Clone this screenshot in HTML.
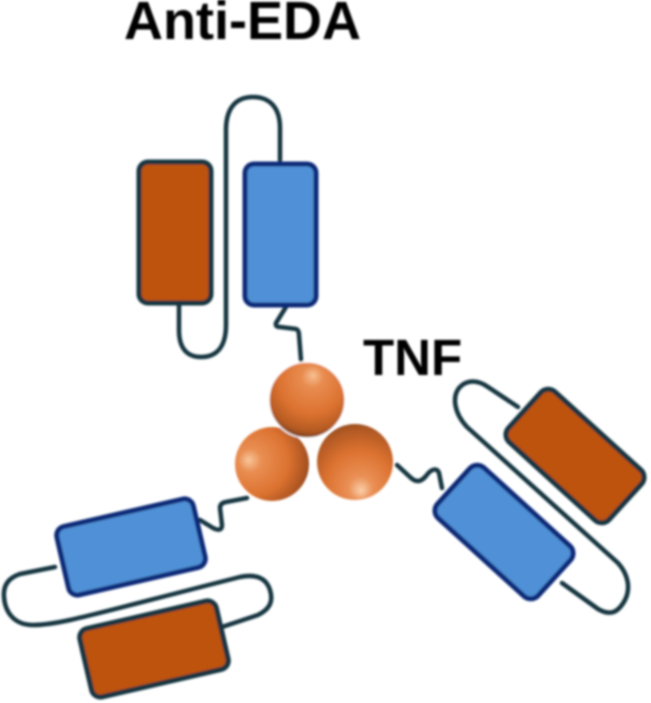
<!DOCTYPE html>
<html>
<head>
<meta charset="utf-8">
<style>
html,body{margin:0;padding:0;background:#fff;width:651px;height:703px;overflow:hidden}
svg{display:block}
text{font-family:"Liberation Sans",Arial,sans-serif;font-weight:bold;fill:#000}
</style>
</head>
<body>
<svg width="651" height="703" viewBox="0 0 651 703" xmlns="http://www.w3.org/2000/svg">
<defs>
<filter id="b" x="-10%" y="-10%" width="120%" height="120%"><feGaussianBlur stdDeviation="0.95"/></filter>
<radialGradient id="g1" cx="0.55" cy="0.3" r="0.72" fx="0.58" fy="0.17">
<stop offset="0" stop-color="#f8c092"/><stop offset="0.2" stop-color="#e88c50"/><stop offset="0.6" stop-color="#dc7230"/><stop offset="0.87" stop-color="#b45a22"/><stop offset="1" stop-color="#703c1c"/>
</radialGradient>
<radialGradient id="g2" cx="0.3" cy="0.45" r="0.78" fx="0.18" fy="0.45">
<stop offset="0" stop-color="#f9c69c"/><stop offset="0.2" stop-color="#e98e52"/><stop offset="0.6" stop-color="#dc7230"/><stop offset="0.86" stop-color="#ad5522"/><stop offset="1" stop-color="#703c1c"/>
</radialGradient>
<radialGradient id="g3" cx="0.55" cy="0.72" r="0.8" fx="0.58" fy="0.88">
<stop offset="0" stop-color="#fad0aa"/><stop offset="0.2" stop-color="#ea9056"/><stop offset="0.55" stop-color="#dc7230"/><stop offset="0.85" stop-color="#b05824"/><stop offset="1" stop-color="#7c4422"/>
</radialGradient>
</defs>
<g filter="url(#b)">
<text x="124" y="39" font-size="54">Anti-EDA</text>
<text x="363" y="375" font-size="51">TNF</text>
<g fill="none" stroke="#12343f" stroke-width="4.5" stroke-linecap="round" stroke-linejoin="round">
<!-- top -->
<path d="M280 160V128C280 108 270 97 253 97C236 97 226 108 226 130V325C226 345 218 357 201 357C186 357 179 347 179 330V303"/>
<path d="M286 307L276 323Q275 327 280 327L296 329Q299 330 299 335L301 360"/>
<!-- right -->
<path d="M518 407L488 387C477 379 466 380 459 388C452 397 454 413 467 427L618 563C628 574 631 588 625 600C618 613 610 616 598 609L562 583"/>
<path d="M397 465L410 477C416 483 421 482 426 476C431 469 437 467 439 473L442 488"/>
<!-- left -->
<path d="M55 567L20 574C8 578 3 586 4 597C5 612 14 625 33 625C60 625 90 615 240 577C255 574 266 577 270 590C274 603 268 610 258 615L222 627"/>
<path d="M200 520L213 528C219 531 222 530 222 525L220 508Q220 503 226 502L247 498"/>
</g>
<g stroke-width="5">
<rect x="139" y="162" width="72" height="141" rx="9" fill="#bd5211" stroke="#12343f"/>
<rect x="245" y="164" width="71" height="141" rx="9" fill="#4f90d6" stroke="#0c2c78"/>
<rect x="507" y="422" width="136" height="68" rx="10" transform="rotate(42.3 575 456)" fill="#bd5211" stroke="#12343f"/>
<rect x="436" y="498" width="136" height="68" rx="10" transform="rotate(42.3 504 532)" fill="#4f90d6" stroke="#0c2c78"/>
<rect x="61" y="512" width="140" height="70" rx="9" transform="rotate(-13 131 547)" fill="#4f90d6" stroke="#0c2c78"/>
<rect x="84" y="614" width="140" height="70" rx="9" transform="rotate(-13 154 649)" fill="#bd5211" stroke="#12343f"/>
</g>
<circle cx="272" cy="464" r="37" fill="url(#g2)"/>
<circle cx="355" cy="462" r="38" fill="url(#g3)"/>
<circle cx="307" cy="400" r="38" fill="url(#g1)" stroke="#fff" stroke-width="1.5"/>
</g>
</svg>
</body>
</html>
